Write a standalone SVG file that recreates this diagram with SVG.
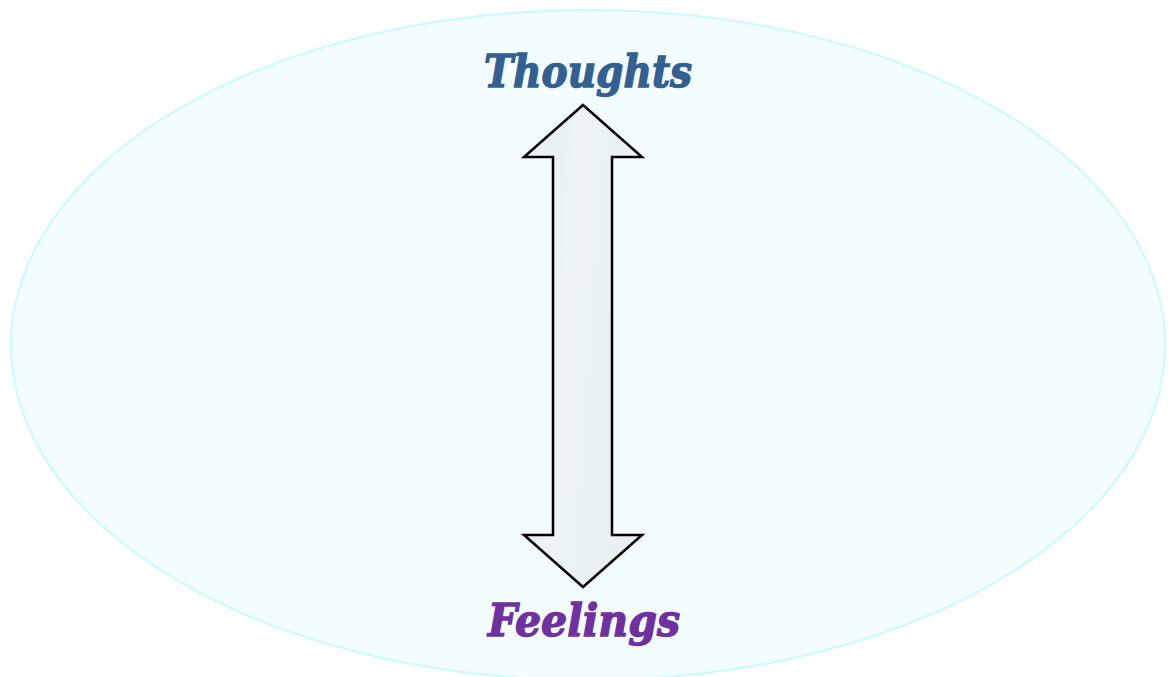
<svg xmlns="http://www.w3.org/2000/svg" width="1175" height="677" viewBox="0 0 1175 677">
<defs>
<style>
.lbl{font-family:"DejaVu Serif","Liberation Serif",serif;font-weight:bold;font-style:italic;font-size:44px;text-anchor:middle;stroke-width:1.4}
</style>
<linearGradient id="ag" x1="0" y1="0" x2="1" y2="0.3">
<stop offset="0" stop-color="#e6eff4"/>
<stop offset="0.5" stop-color="#edf3f5"/>
<stop offset="1" stop-color="#e7f0f2"/>
</linearGradient>
</defs>
<rect width="1175" height="677" fill="#ffffff"/>
<g id="background">
<ellipse cx="588" cy="345" rx="577" ry="335" fill="#f4fdfd" stroke="#c8fbfb" stroke-width="2"/>
</g>
<g id="connectors">
<path d="M583,105 L642,157 L612,157 L612,535 L642,535 L583,587 L524,535 L553,535 L553,157 L524,157 Z" fill="url(#ag)" stroke="#000" stroke-width="2.5" stroke-linejoin="miter"/>
</g>
<g id="thoughts">
<text class="lbl" x="588" y="87" fill="#335f91" stroke="#335f91" textLength="208" lengthAdjust="spacingAndGlyphs">Thoughts</text>
</g>
<g id="feelings">
<text class="lbl" x="584" y="636" fill="#7030a0" stroke="#7030a0" textLength="192" lengthAdjust="spacingAndGlyphs">Feelings</text>
</g>
</svg>
